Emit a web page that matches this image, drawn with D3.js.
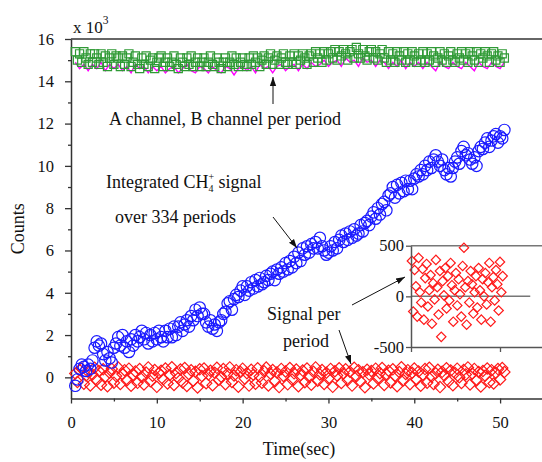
<!DOCTYPE html>
<html>
<head>
<meta charset="utf-8">
<script src="https://cdn.jsdelivr.net/npm/d3@7"></script>
<style>
  body { margin: 0; background: #fff; }
  svg { display: block; font-family: "Liberation Serif", "Times New Roman", serif; }
</style>
</head>
<body>
<svg id="chart" width="542" height="462"></svg>
<script>
// sampling of the per-period series (sec)
const t0 = 0.5;
const dt = 0.25;
const dtA = 0.5;
const dtInset = 0.75;

// Integrated CH4+ signal, x10^3 counts
const integrated = [
  -0.4, -0.1, 0.4, 0.6,  0.5, 0.3, 0.6, 0.4,  0.8, 1.4, 1.7, 1.5,  1.6, 1.1, 0.8, 1.2,  0.9, 0.7, 1.4, 1.6,
  1.9, 1.5, 2.0, 1.4,  1.7, 1.2, 1.8, 1.5,  2.0, 1.7, 1.9, 2.2,  1.8, 2.1, 1.6, 2.0,  1.7, 2.1, 1.8, 2.2,
  1.9, 1.7, 2.2, 1.9,  2.3, 1.9, 2.4, 2.0,  2.4, 2.6, 2.2, 2.5,  2.7, 2.4, 2.9, 2.7,  3.2, 2.9, 3.3, 3.0,
  3.0, 2.6, 2.4, 2.7,  2.3, 2.5, 2.2, 2.6,  2.7, 3.0, 3.1, 3.5,  3.6, 3.2, 3.7, 3.9,  3.8, 4.1, 4.3, 3.9,
  4.3, 4.1, 4.5, 4.2,  4.6, 4.3, 4.7, 4.4,  4.5, 4.8, 4.6, 4.9,  5.0, 4.6, 5.1, 4.9,  5.2, 5.0, 5.4, 5.1,
  5.5, 5.2, 5.7, 5.4,  5.9, 5.5, 6.1, 5.8,  6.2, 5.9, 6.3, 6.1,  6.4, 6.1, 6.6, 6.2,  6.0, 5.8, 5.9, 6.2,
  6.0, 6.4, 6.1, 6.5,  6.7, 6.4, 6.8, 6.5,  6.9, 6.6, 7.0, 6.7,  6.8, 7.2, 6.9, 7.3,  7.4, 7.2, 7.6, 7.8,
  7.5, 8.0, 7.7, 8.2,  8.3, 7.9, 8.6, 8.7,  9.0, 8.5, 9.1, 8.7,  9.2, 8.8, 9.3, 8.9,  9.3, 8.9, 9.4, 9.6,
  9.5, 9.8, 9.6, 10.0,  9.8, 10.2, 9.9, 10.3,  10.5, 10.2, 10.0, 10.3,  9.8, 9.6, 9.9, 9.5,  9.9, 10.2, 10.4, 10.1,
  10.7, 10.9, 10.5, 10.6,  10.3, 10.1, 10.4, 10.0,  10.7, 10.9, 10.8, 11.1,  11.3, 10.9, 11.2, 11.4,  11.5, 11.1, 11.4, 11.3,
  11.7
];

// Signal per period, counts
const signalPerPeriod = [
  180, -220, 350, 420, -300, 90, 260, -380, 140, 450, -120, 300, -350, 380, 40, -420, 220, 400, -250, 60,
  460, -310, 160, 340, -150, 410, -400, 120, 280, -260, 390, 20, -340, 230, 470, -180, 80, 350, -450, 200,
  310, -90, 420, -290, 110, 480, -360, 210, -30, 370, -240, 440, -410, 150, 330, -160, 260, -480, 380, 60,
  420, -280, 130, 310, -370, 220, 450, -110, 30, 390, -320, 180, 470, -220, 90, 340, -440, 250, 410, -60,
  200, -390, 360, 120, -300, 430, 40, -250, 290, 460, -380, 170, 350, -190, 230, -460, 400, 70, 280, -330,
  440, -100, 190, 370, -420, 110, 320, -230, 420, 20, -350, 260, 470, -160, 140, 350, -310, 220, -60, 400,
  -450, 290, 90, 430, -270, 180, 380, -130, 260, -390, 450, 50, 330, -200, 240, -470, 360, 130, 300, -290,
  410, -50, 200, 440, -360, 150, 310, -240, 380, 70, -420, 250, 480, -140, 160, 340, -320, 220, 420, -110,
  280, -400, 120, 390, -250, 450, 30, -310, 190, 360, -460, 260, 90, 430, -190, 320, -370, 200, 410, 10,
  -270, 350, 140, 470, -340, 180, 400, -150, 250, -430, 300, 80, 420, -230, 340, -290, 220, 390, -100, 440,
  250
];

// B channel per period, x10^3 counts (green squares)
const channelB = [
  15.4, 15.0, 15.3, 14.9, 15.4, 15.1, 14.8, 15.3, 14.9, 15.3, 15.1, 14.8, 15.3, 14.9, 15.2, 14.7, 15.1, 15.3, 14.8, 15.2,
  15.1, 14.7, 15.2, 14.8, 15.1, 15.3, 14.7, 14.9, 15.2, 14.8, 14.6, 15.1, 14.8, 15.2, 14.7, 15.0, 15.1, 14.6, 14.9, 15.1,
  15.2, 14.7, 14.9, 15.1, 14.7, 14.9, 15.2, 14.8, 14.6, 15.1, 14.9, 14.7, 15.1, 14.8, 15.2, 14.7, 14.9, 15.1, 14.7, 14.9,
  15.1, 14.7, 14.9, 15.2, 14.8, 14.7, 15.1, 14.9, 14.6, 14.9, 15.1, 14.7, 14.9, 15.2, 14.8, 15.1, 14.7, 14.9, 15.1, 14.8,
  14.7, 15.1, 14.8, 15.2, 14.9, 15.1, 14.7, 15.0, 15.2, 14.8, 15.1, 15.3, 14.8, 15.0, 15.2, 14.8, 15.1, 15.3, 14.9, 14.8,
  15.2, 14.9, 15.3, 14.8, 15.2, 15.0, 15.3, 15.1, 14.8, 15.2, 15.3, 14.9, 15.4, 15.1, 15.3, 14.9, 15.4, 15.0, 15.3, 15.4,
  15.1, 15.5, 15.0, 15.4, 15.2, 15.5, 15.3, 15.0, 15.4, 15.5, 15.1, 15.6, 15.3, 15.1, 15.5, 15.2, 15.0, 15.4, 15.5, 15.1,
  15.4, 15.0, 15.3, 15.5, 15.1, 14.9, 15.4, 15.0, 15.3, 14.9, 15.4, 15.2, 15.0, 15.4, 14.9, 15.3, 15.0, 15.4, 15.2, 14.9,
  15.3, 15.0, 15.4, 14.9, 15.3, 15.0, 15.4, 15.2, 14.9, 15.1, 15.4, 15.0, 15.3, 14.9, 15.2, 15.4, 15.0, 14.9, 15.3, 15.1,
  15.4, 15.0, 15.3, 14.9, 15.4, 15.2, 15.0, 15.4, 14.9, 15.3, 15.1, 15.4, 15.2, 14.9, 15.3, 15.4, 15.0, 15.2, 14.9, 15.3,
  15.1
];

// A channel per period, x10^3 counts (magenta line)
const channelA = [
  14.9, 14.6, 14.8, 14.5, 14.8, 14.6, 14.9, 14.5, 14.8, 14.6,
  14.8, 14.5, 14.7, 14.4, 14.8, 14.6, 14.7, 14.4, 14.7, 14.5,
  14.7, 14.4, 14.6, 14.7, 14.4, 14.6, 14.8, 14.5, 14.4, 14.7,
  14.6, 14.4, 14.7, 14.5, 14.4, 14.7, 14.6, 14.3, 14.6, 14.7,
  14.5, 14.7, 14.4, 14.8, 14.6, 14.7, 14.4, 14.7, 14.8, 14.5,
  14.7, 14.8, 14.5, 14.8, 14.6, 14.9, 14.7, 14.8, 15.0, 14.7,
  14.9, 15.0, 14.7, 15.1, 14.9, 15.0, 14.7, 15.1, 14.9, 15.0,
  14.7, 15.0, 14.9, 14.6, 14.9, 14.7, 15.0, 14.6, 14.9, 14.7,
  14.9, 14.6, 14.9, 14.7, 14.5, 14.9, 14.7, 14.6, 14.9, 14.7,
  14.6, 14.9, 14.7, 14.5, 14.9, 14.7, 14.6, 14.9, 14.7, 14.6,
  14.9
];

// inset: signal per period, counts
const insetSignal = [
  350, -150, 260, 100, -200, 380, 40, -60, 270, -230, 180, 320, -100, 60, 210, -270, 130, -30, 360, 90,
  -180, 250, -400, 150, 10, 280, -120, 200, -40, 330, 110, -250, 60, 230, -90, 170, 20, -200, 300, 480,
  90, -280, 150, -60, 250, 120, -170, 40, 200, -110, 280, 60, -230, 170, 0, 230, -80, 140, 330, -250,
  90, 190, -40, 260, 120, -140, 340, 40, 200
];

const xTicks = [0, 10, 20, 30, 40, 50];
const xMinor = [5, 15, 25, 35, 45];
const yTicks = [0, 2, 4, 6, 8, 10, 12, 14, 16];
const yMinor = [1, 3, 5, 7, 9, 11, 13, 15];
const insetYTicks = [-500, 0, 500];
const insetXTicks = [0, 50];

const axisColor = '#333';
const serif = '"Liberation Serif", "Times New Roman", serif';
const svg = d3.select('#chart');

// arrow head
svg.append('defs').append('marker')
  .attr('id', 'arrow')
  .attr('viewBox', '0 0 10 10')
  .attr('refX', 10).attr('refY', 5)
  .attr('markerUnits', 'userSpaceOnUse')
  .attr('markerWidth', 9).attr('markerHeight', 9)
  .attr('orient', 'auto')
  .append('path')
  .attr('d', 'M0,1.5 L10,5 L0,8.5 Z')
  .attr('fill', '#111');

// scales
const x = d3.scaleLinear().domain([0, 55]).range([71, 543]);
const y = d3.scaleLinear().domain([-1, 16]).range([398.5, 39]);

const styleAxis = g => {
  g.attr('font-family', serif);
  g.selectAll('.domain').attr('stroke', axisColor).attr('stroke-width', 1.5);
  g.selectAll('.tick line').attr('stroke', axisColor).attr('stroke-width', 1.3);
  g.selectAll('.tick text').attr('fill', '#111').attr('font-size', 16.5).attr('font-family', serif);
};

// y axis
svg.append('g')
  .attr('transform', `translate(${x(0)},0)`)
  .call(d3.axisLeft(y).tickValues(yTicks).tickSize(6).tickSizeOuter(0).tickPadding(11).tickFormat(d => d))
  .call(styleAxis);
svg.append('g')
  .attr('transform', `translate(${x(0)},0)`)
  .call(d3.axisLeft(y).tickValues(yMinor).tickSize(3).tickFormat(''))
  .call(g => g.select('.domain').remove())
  .call(styleAxis);

// x axis
svg.append('g')
  .attr('transform', `translate(0,${y(-1)})`)
  .call(d3.axisBottom(x).tickValues(xTicks).tickSize(5).tickSizeOuter(0).tickPadding(13).tickFormat(d => d))
  .call(styleAxis);
svg.append('g')
  .attr('transform', `translate(0,${y(-1)})`)
  .call(d3.axisBottom(x).tickValues(xMinor).tickSize(3).tickFormat(''))
  .call(g => g.select('.domain').remove())
  .call(styleAxis);

// top frame line
svg.append('line')
  .attr('x1', x(0)).attr('x2', x(55))
  .attr('y1', y(16)).attr('y2', y(16))
  .attr('stroke', axisColor).attr('stroke-width', 1.5);

// axis titles
svg.append('text')
  .attr('transform', `translate(24,${(y(16) + y(-1)) / 2 + 10}) rotate(-90)`)
  .attr('text-anchor', 'middle')
  .attr('font-size', 18)
  .attr('fill', '#111')
  .text('Counts');

svg.append('text')
  .attr('x', 299).attr('y', 455)
  .attr('text-anchor', 'middle')
  .attr('font-size', 18)
  .attr('fill', '#111')
  .text('Time(sec)');

const mult = svg.append('text')
  .attr('x', 73).attr('y', 33)
  .attr('font-size', 17)
  .attr('fill', '#111');
mult.append('tspan').text('x 10');
mult.append('tspan').attr('font-size', 11.5).attr('dy', -9).text('3');

// series
const square = d3.symbol(d3.symbolSquare, 66)();
const diamond = d3.symbol(d3.symbolSquare, 64)();
const smallDiamond = d3.symbol(d3.symbolSquare, 44)();

const tA = i => t0 + i * dtA;
const tMain = i => t0 + i * dt;

svg.append('path')
  .datum(channelA)
  .attr('fill', 'none')
  .attr('stroke', '#ff00ff')
  .attr('stroke-width', 1.4)
  .attr('d', d3.line().x((d, i) => x(tA(i))).y(d => y(d)));

svg.append('g')
  .selectAll('path')
  .data(channelB)
  .join('path')
  .attr('d', square)
  .attr('transform', (d, i) => `translate(${x(tMain(i))},${y(d)})`)
  .attr('fill', 'none')
  .attr('stroke', '#2f9a35')
  .attr('stroke-width', 1.2);

svg.append('g')
  .selectAll('path')
  .data(signalPerPeriod)
  .join('path')
  .attr('d', diamond)
  .attr('transform', (d, i) => `translate(${x(tMain(i))},${y(d / 1000)}) rotate(45)`)
  .attr('fill', 'none')
  .attr('stroke', '#ff1a1a')
  .attr('stroke-width', 1.2);

svg.append('g')
  .selectAll('circle')
  .data(integrated)
  .join('circle')
  .attr('cx', (d, i) => x(tMain(i)))
  .attr('cy', d => y(d))
  .attr('r', 5.7)
  .attr('fill', 'none')
  .attr('stroke', '#1a1aff')
  .attr('stroke-width', 1.2);

// inset
const ix = d3.scaleLinear().domain([0, 73.6]).range([411, 542]);
const iy = d3.scaleLinear().domain([-500, 500]).range([347, 245.7]);

const inset = svg.append('g');
inset.append('rect')
  .attr('x', ix(0)).attr('y', iy(500))
  .attr('width', ix(73.6) - ix(0)).attr('height', iy(-500) - iy(500))
  .attr('fill', '#fff');
inset.append('line')
  .attr('x1', ix(0)).attr('x2', ix(73.6))
  .attr('y1', iy(500)).attr('y2', iy(500))
  .attr('stroke', '#777').attr('stroke-width', 1.5);
inset.append('line')
  .attr('x1', ix(0)).attr('x2', ix(67))
  .attr('y1', iy(0)).attr('y2', iy(0))
  .attr('stroke', '#777').attr('stroke-width', 1.5);

inset.append('g')
  .selectAll('path')
  .data(insetSignal)
  .join('path')
  .attr('d', smallDiamond)
  .attr('transform', (d, i) => `translate(${ix(t0 + i * dtInset)},${iy(d)}) rotate(45)`)
  .attr('fill', 'none')
  .attr('stroke', '#ff1a1a')
  .attr('stroke-width', 1.2);

inset.append('g')
  .attr('transform', `translate(${ix(0)},0)`)
  .call(d3.axisLeft(iy).tickValues(insetYTicks).tickSize(5).tickSizeOuter(0).tickPadding(2).tickFormat(d => String(d)))
  .call(styleAxis)
  .call(g => g.selectAll('.domain, .tick line').attr('stroke', '#555'));
inset.append('g')
  .attr('transform', `translate(0,${iy(-500)})`)
  .call(d3.axisBottom(ix).tickValues(insetXTicks).tickSize(5).tickSizeOuter(0).tickFormat(''))
  .call(styleAxis)
  .call(g => g.selectAll('.domain, .tick line').attr('stroke', '#555'));

// annotations
const note = (tx, ty, str) => svg.append('text')
  .attr('x', tx).attr('y', ty)
  .attr('font-size', 18)
  .attr('fill', '#111')
  .text(str);

note(109, 125, 'A channel, B channel per period');

const ch4 = svg.append('text').attr('x', 106).attr('y', 188).attr('font-size', 18).attr('fill', '#111');
ch4.append('tspan').text('Integrated CH');
ch4.append('tspan').attr('font-size', 10).attr('dy', 4).text('4');
ch4.append('tspan').attr('font-size', 10).attr('dx', -5).attr('dy', -12).text('+');
ch4.append('tspan').attr('dy', 8).text(' signal');

note(115, 223, 'over 334 periods');
note(267, 320, 'Signal per');
note(283, 347, 'period');

const arrows = [
  [273, 104, 273, 77],
  [273, 217, 297, 248],
  [339, 330, 351, 364],
  [352, 305, 405, 277]
];
svg.append('g')
  .selectAll('line')
  .data(arrows)
  .join('line')
  .attr('x1', d => d[0]).attr('y1', d => d[1])
  .attr('x2', d => d[2]).attr('y2', d => d[3])
  .attr('stroke', '#111')
  .attr('stroke-width', 1)
  .attr('marker-end', 'url(#arrow)');
</script>
</body>
</html>
